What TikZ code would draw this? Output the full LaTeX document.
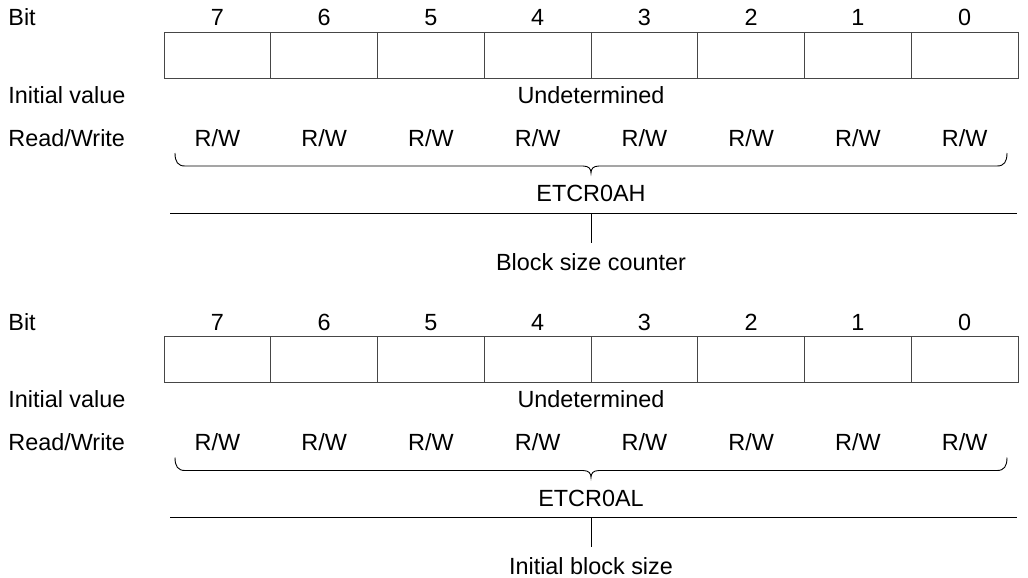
\documentclass[tikz,border=0pt]{standalone}
\usepackage{fontspec}
\setmainfont{Liberation Sans}
\definecolor{cellgray}{RGB}{70,70,70}

\begin{document}
\begin{tikzpicture}[x=0.5pt,y=-0.5pt,font=\fontsize{11.7}{14}\selectfont,
  lbl/.style={anchor=base,inner sep=0pt},
  cellbox/.style={draw=cellgray,line width=0.45pt},
  rule/.style={line width=0.45pt}]
 \useasboundingbox (0,0) rectangle (1028,578);
 \foreach \yo/\reg/\desc in {0/ETCR0AH/Block size counter,304.5/ETCR0AL/Initial block size}
 {
  \begin{scope}[shift={(0,\yo)}]
   \node[lbl,anchor=base west] (bit) at (8,25.7) {Bit};
   \node[lbl,anchor=base west] (init) at (8,103.3) {Initial value};
   \node[lbl,anchor=base west] (rwlbl) at (8,146) {Read/Write};
   \foreach \i in {0,...,7}
     {\pgfmathtruncatemacro\bitno{7-\i}
      \draw[cellbox] (164+106.75*\i,32) rectangle +(106.75,46);
      \node[lbl] (b\i) at (217.4+106.75*\i,25.7) {\bitno};
      \node[lbl] (rw\i) at (217.4+106.75*\i,146) {R/W};}
   \node[lbl] (undet) at (591,103.3) {Undetermined};
   % brace over the eight bits
   \draw[rule] (175,153) .. controls (175,162) and (178,166) .. (185,166)
     -- (583,166) .. controls (589,166) and (591,169) .. (591,173)
     .. controls (591,169) and (593,166) .. (599,166)
     -- (997,166) .. controls (1004,166) and (1007,162) .. (1007,153);
   \node[lbl] (reg) at (591,201.7) {\reg};
   \coordinate (hl) at (170,213);
   \coordinate (hr) at (1017,213);
   \coordinate (tap) at (591,213);
   \draw[rule] (hl) -- (hr);
   \node[lbl] (desc) at (591,270) {\desc};
   \draw[rule] (tap) -- ([yshift=5pt]desc.north);
  \end{scope}
 }
\end{tikzpicture}
\end{document}
